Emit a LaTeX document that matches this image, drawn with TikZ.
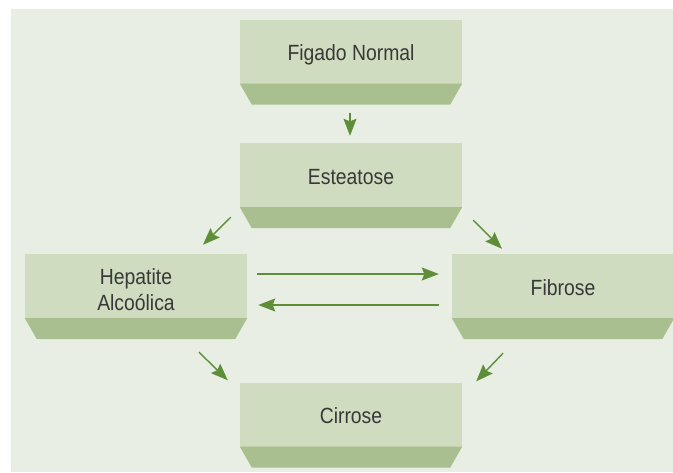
\documentclass[tikz,border=0pt]{standalone}
\usepackage{fontspec}
\setmainfont{Liberation Sans}[FakeStretch=0.88]
\usetikzlibrary{arrows.meta,calc}
\definecolor{bgc}{HTML}{E8EEE3}
\definecolor{facec}{HTML}{CFDCC0}
\definecolor{bevelc}{HTML}{A9BF8F}
\definecolor{arrc}{HTML}{5E8E37}
\definecolor{txtc}{HTML}{383838}
\tikzset{
  stagebox/.style={draw=none, fill=facec, minimum width=222pt, minimum height=64pt,
    inner sep=0pt, align=center, text=txtc, font=\fontsize{22}{26}\selectfont},
  oneline/.style={text height=23pt, text depth=5pt},
  flowarrow/.style={draw=arrc, line width=1.4pt, -{Stealth[length=17pt,width=13pt,inset=2.5pt]}}
}
\newcommand{\bevel}[1]{\fill[bevelc] (#1.south west) -- (#1.south east) -- ++(-12,21) -- ($(#1.south west)+(12,21)$) -- cycle;}
\begin{document}
\begin{tikzpicture}[x=1pt,y=-1pt]
\useasboundingbox (0,0) rectangle (673,472);
\fill[white] (0,0) rectangle (673,472);
\fill[bgc] (11,9) rectangle (673,472);

\node[stagebox,oneline] (fig) at (351,51.5) {Figado Normal};
\node[stagebox,oneline] (est) at (351,175) {Esteatose};
\node[stagebox] (hep) at (136,286) {\rule{0pt}{23pt}Hepatite\\Alcoólica};
\node[stagebox,oneline] (fib) at (563,286) {Fibrose};
\node[stagebox,oneline] (cir) at (351,414.5) {Cirrose};
\foreach \n in {fig,est,hep,fib,cir} {\bevel{\n}}

\draw[flowarrow] ($(fig.south)+(-1,29)$) -- ($(est.north)+(-1,-7)$);
\draw[flowarrow] ($(est.south west)+(-9,10)$) -- ($(hep.north)+(67,-9)$);
\draw[flowarrow] ($(est.south east)+(11,13)$) -- ($(fib.north)+(-61,-5)$);
\draw[flowarrow] ($(hep.east)+(10,-12)$) -- ($(fib.west)+(-13,-12)$);
\draw[flowarrow] ($(fib.west)+(-13,19)$) -- ($(hep.east)+(11,19)$);
\draw[flowarrow] ($(hep.south)+(63,34)$) -- ($(cir.north west)+(-12,-2)$);
\draw[flowarrow] ($(fib.south)+(-60,35)$) -- ($(cir.north east)+(14,-1)$);
\end{tikzpicture}
\end{document}
